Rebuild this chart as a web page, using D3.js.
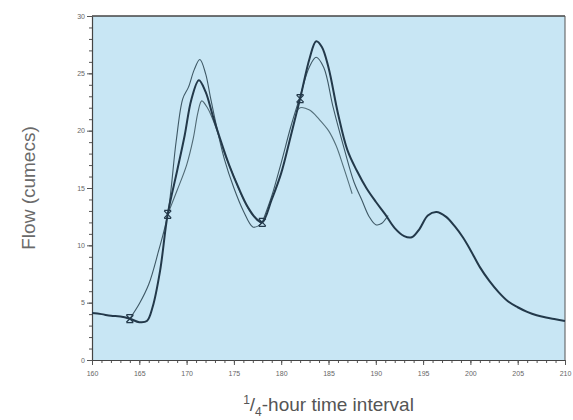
<!DOCTYPE html>
<html>
<head>
<meta charset="utf-8">
<script src="https://cdn.jsdelivr.net/npm/d3@7"></script>
<style>
  body { margin: 0; background: #fff; }
  svg { display: block; font-family: "Liberation Sans", Arial, sans-serif; }
</style>
</head>
<body>
<div id="chart"></div>
<script>
// observed hydrograph (thick line)
var observed = [
  [160, 4.1], [161, 4.0], [162, 3.85], [163, 3.8], [164, 3.6], [165, 3.3], [165.8, 3.4],
  [166.4, 4.6], [167.2, 7.8], [168, 12.7], [169, 16.5], [169.8, 19.6], [170.5, 22.7],
  [171.3, 24.4], [172, 23.4], [172.8, 21.2], [173.5, 19.4], [174.5, 17], [175.5, 15],
  [176.5, 13.3], [177.5, 12.2], [178, 12], [179, 14], [180, 16.3], [181, 19.5],
  [182, 22.8], [183, 26.3], [183.7, 27.8], [184.3, 27.3], [185, 25.5], [186, 21.5],
  [187, 18.3], [188, 16.5], [189, 15], [190, 13.8], [191, 12.7], [192, 11.5],
  [193, 10.8], [193.8, 10.7], [194.6, 11.4], [195.5, 12.6], [196.4, 12.9], [197.4, 12.5],
  [198.4, 11.6], [199.2, 10.7], [200, 9.6], [201, 8.1], [202, 6.9], [203, 5.9],
  [204, 5.1], [205, 4.6], [206, 4.2], [207, 3.9], [208, 3.7], [209, 3.55], [210, 3.4]
];

// forecast runs (thin lines)
var forecastA = [
  [164, 3.6], [165, 4.9], [166, 6.6], [167, 9.4], [168, 12.7],
  [168.9, 19.1], [169.6, 22.8], [170.2, 23.8], [170.8, 25.3], [171.4, 26.2], [172, 25],
  [172.5, 23], [173, 21], [174, 17.5], [175, 15], [176, 13], [177, 11.6], [177.6, 11.7],
  [178, 12]
];
var forecastB = [
  [168, 12.7], [169, 14.8], [170, 17], [170.7, 19.3], [171.2, 21.6], [171.6, 22.6],
  [172.2, 22], [173, 20.5], [174, 18], [175, 16], [176, 14], [177, 12.6], [178, 12]
];
var forecastC = [
  [178, 12], [179, 14.3], [180, 17.2], [181, 20.3], [182, 23], [183, 25.6], [183.7, 26.4],
  [184.5, 25.5], [185.5, 22], [186.7, 18.3], [187.7, 15.5], [188.5, 14], [189.3, 12.5],
  [190, 11.8], [190.6, 11.9], [191.3, 12.6]
];
var forecastD = [
  [181.6, 21.6], [182, 22], [183, 21.8], [184, 21], [185, 20], [185.8, 18.7],
  [186.6, 16.8], [187.5, 14.5]
];

// forecast start points
var markers = [[164, 3.6], [168, 12.7], [178, 12], [182, 22.8]];

var xTicks = [160, 165, 170, 175, 180, 185, 190, 195, 200, 205, 210];
var yTicks = [0, 5, 10, 15, 20, 25, 30];

var width = 573, height = 420;
var margin = {top: 16, right: 8, bottom: 60, left: 92};

var x = d3.scaleLinear().domain([160, 210]).range([margin.left, width - margin.right]);
var y = d3.scaleLinear().domain([0, 30]).range([height - margin.bottom, margin.top]);

var svg = d3.select('#chart').append('svg')
  .attr('width', width)
  .attr('height', height);

svg.append('rect')
  .attr('x', x(160)).attr('y', y(30))
  .attr('width', x(210) - x(160)).attr('height', y(0) - y(30))
  .attr('fill', '#c8e6f4');

// minor ticks
svg.append('g')
  .attr('transform', 'translate(0,' + y(0) + ')')
  .call(d3.axisBottom(x).ticks(50).tickSize(3).tickFormat(''))
  .call(function(g) { g.select('.domain').remove(); })
  .selectAll('line').attr('stroke', '#555');
svg.append('g')
  .attr('transform', 'translate(' + x(160) + ',0)')
  .call(d3.axisLeft(y).ticks(30).tickSize(3).tickFormat(''))
  .call(function(g) { g.select('.domain').remove(); })
  .selectAll('line').attr('stroke', '#555');

// major ticks + labels
var xAxis = svg.append('g')
  .attr('transform', 'translate(0,' + y(0) + ')')
  .call(d3.axisBottom(x).tickValues(xTicks).tickSize(5).tickSizeOuter(0).tickPadding(6));
var yAxis = svg.append('g')
  .attr('transform', 'translate(' + x(160) + ',0)')
  .call(d3.axisLeft(y).tickValues(yTicks).tickSize(5).tickSizeOuter(0).tickPadding(2));

[xAxis, yAxis].forEach(function(g) {
  g.select('.domain').attr('stroke', '#444').attr('stroke-width', 1.2);
  g.selectAll('line').attr('stroke', '#555');
  g.selectAll('text').attr('fill', '#666').style('font-size', '7px');
});
yAxis.selectAll('text').attr('dy', '0.3em');

// frame top and right
svg.append('line')
  .attr('x1', x(160)).attr('x2', x(210)).attr('y1', y(30)).attr('y2', y(30))
  .attr('stroke', '#444').attr('stroke-width', 1.5);
svg.append('line')
  .attr('x1', x(210)).attr('x2', x(210)).attr('y1', y(30)).attr('y2', y(0))
  .attr('stroke', '#555').attr('stroke-width', 1);

var line = d3.line()
  .x(function(d) { return x(d[0]); })
  .y(function(d) { return y(d[1]); })
  .curve(d3.curveCatmullRom.alpha(0.5));

var thin = [
  {data: forecastA, color: '#3e5865'},
  {data: forecastB, color: '#4f6873'},
  {data: forecastC, color: '#3e5865'},
  {data: forecastD, color: '#54707b'}
];
svg.selectAll('.forecast')
  .data(thin)
  .enter().append('path')
  .attr('class', 'forecast')
  .attr('d', function(d) { return line(d.data); })
  .attr('fill', 'none')
  .attr('stroke', function(d) { return d.color; })
  .attr('stroke-width', 1.1);

svg.append('path')
  .attr('d', line(observed))
  .attr('fill', 'none')
  .attr('stroke', '#23394a')
  .attr('stroke-width', 2);

// hourglass-ish x markers
svg.selectAll('.marker')
  .data(markers)
  .enter().append('path')
  .attr('class', 'marker')
  .attr('transform', function(d) { return 'translate(' + x(d[0]) + ',' + y(d[1]) + ')'; })
  .attr('d', 'M-3.5,-3.5L3.5,3.5M3.5,-3.5L-3.5,3.5M-3.5,-4H3.5M-3.5,4H3.5')
  .attr('fill', 'none')
  .attr('stroke', '#23394a')
  .attr('stroke-width', 1.2);

// axis titles
svg.append('text')
  .attr('transform', 'translate(35,' + ((y(0) + y(30)) / 2) + ') rotate(-90)')
  .attr('text-anchor', 'middle')
  .attr('fill', '#6a6a6a')
  .style('font-size', '19px')
  .text('Flow (cumecs)');

var xt = svg.append('text')
  .attr('x', (x(160) + x(210)) / 2)
  .attr('y', 411)
  .attr('text-anchor', 'middle')
  .attr('fill', '#555')
  .style('font-size', '19px');
xt.append('tspan').attr('dy', '-7').style('font-size', '12px').text('1');
xt.append('tspan').attr('dy', '7').text('/');
xt.append('tspan').attr('dy', '5').style('font-size', '12px').text('4');
xt.append('tspan').attr('dy', '-5').text('-hour time interval');
</script>
</body>
</html>
